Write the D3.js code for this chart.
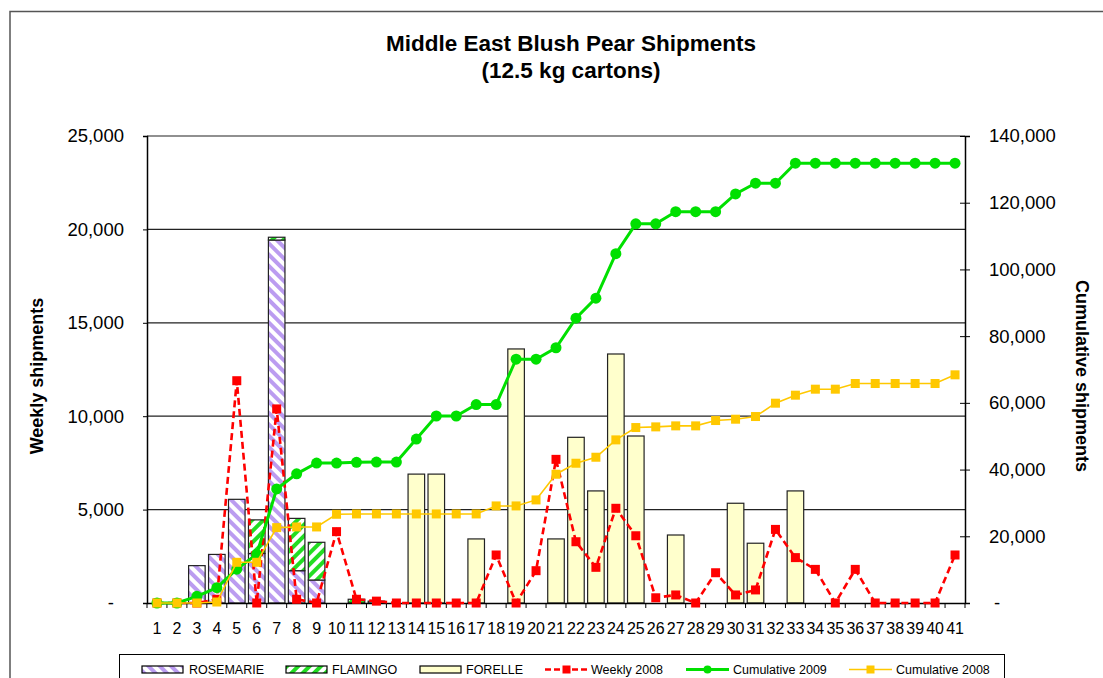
<!DOCTYPE html>
<html>
<head>
<meta charset="utf-8">
<script src="https://cdn.jsdelivr.net/npm/d3@7"></script>
<style>
  html, body { margin: 0; padding: 0; background: #fff; }
  svg { display: block; font-family: "Liberation Sans", Arial, sans-serif; }
</style>
</head>
<body>
<svg id="chart" width="1103" height="678"></svg>
<script>
// ---------- data ----------
const weeks = [1,2,3,4,5,6,7,8,9,10,11,12,13,14,15,16,17,18,19,20,21,22,23,24,25,26,27,28,29,30,31,32,33,34,35,36,37,38,39,40,41];
const rosemarie = [0,0,2000,2600,5550,2650,19430,1730,1230,0,0,100,0,0,0,0,0,0,0,0,0,0,0,0,0,0,0,0,0,0,0,0,0,0,0,0,0,0,0,0,0];
const flamingo  = [0,0,0,0,0,1800,150,2800,2020,0,200,0,0,0,0,0,0,0,0,0,0,0,0,0,0,0,0,0,0,0,0,0,0,0,0,0,0,0,0,0,0];
const forelle   = [0,0,0,0,0,0,0,0,0,0,0,0,0,6900,6900,0,3430,0,13600,0,3430,8870,6000,13330,8940,0,3640,0,0,5340,3200,0,6000,0,0,0,0,0,0,0,0];
const weekly2008 = [0,0,0,200,11900,0,10390,200,0,3820,200,100,0,0,0,0,0,2570,0,1730,7690,3280,1910,5070,3600,280,430,0,1620,430,700,3940,2430,1800,0,1800,0,0,0,0,2570];
const cumulative2009 = [0,0,2000,4600,10150,14600,34180,38710,41960,41960,42160,42260,42260,49160,56060,56060,59490,59490,73090,73090,76520,85390,91390,104720,113660,113660,117300,117300,117300,122640,125840,125840,131840,131840,131840,131840,131840,131840,131840,131840,131840];
const cumulative2008 = [0,0,0,300,12200,12200,22600,22800,22800,26600,26700,26700,26700,26700,26700,26700,26700,29100,29100,30900,38600,41900,43700,48900,52600,52800,53100,53100,54700,55100,55900,59900,62300,64100,64100,65800,65800,65800,65800,65800,68400];
const leftTicks  = [0,5000,10000,15000,20000,25000];
const rightTicks = [0,20000,40000,60000,80000,100000,120000,140000];
const titleLines = ["Middle East Blush Pear Shipments", "(12.5 kg cartons)"];
const legendNames = ["ROSEMARIE","FLAMINGO","FORELLE","Weekly 2008","Cumulative 2009","Cumulative 2008"];

// ---------- layout ----------
const svg = d3.select("#chart");
const L = 147, R = 965, T = 136, B = 603;
const fmt = v => v === 0 ? "-" : d3.format(",")(v);

const x = d3.scaleBand().domain(weeks).range([L, R]).padding(0);
const yL = d3.scaleLinear().domain([0, 25000]).range([B, T]);
const yR = d3.scaleLinear().domain([0, 140000]).range([B, T]);
const cx = w => x(w) + x.bandwidth() / 2;
const barW = x.bandwidth() * 0.83;

// frame
svg.append("rect").attr("x", 10).attr("y", 11.5).attr("width", 1200).attr("height", 900)
  .attr("fill", "none").attr("stroke", "#555").attr("stroke-width", 1.5);

// patterns
const defs = svg.append("defs");
function hatch(id, color, angle) {
  const p = defs.append("pattern").attr("id", id).attr("patternUnits", "userSpaceOnUse")
    .attr("width", 8).attr("height", 8).attr("patternTransform", `rotate(${angle})`);
  p.append("rect").attr("width", 8).attr("height", 8).attr("fill", "#fff");
  p.append("rect").attr("width", 4).attr("height", 8).attr("fill", color);
}
hatch("hRose", "#bb9cf0", -45);
hatch("hFlam", "#22dd22", 45);

// title
svg.selectAll("text.title").data(titleLines).join("text")
  .attr("class", "title")
  .attr("x", 571).attr("y", (d, i) => 51 + i * 27)
  .attr("text-anchor", "middle").attr("font-weight", "bold").attr("font-size", 22.5)
  .text(d => d);

// gridlines
svg.append("g").selectAll("line").data(leftTicks.filter(d => d > 0)).join("line")
  .attr("x1", L).attr("x2", R).attr("y1", d => yL(d)).attr("y2", d => yL(d))
  .attr("stroke", "#222").attr("stroke-width", 1.2);

// bars
const series = [
  { key: "ROSEMARIE", vals: rosemarie, base: weeks.map(() => 0), fill: "url(#hRose)" },
  { key: "FLAMINGO", vals: flamingo, base: rosemarie, fill: "url(#hFlam)" },
  { key: "FORELLE", vals: forelle, base: weeks.map(() => 0), fill: "#ffffcc" }
];
series.forEach(s => {
  const data = weeks.map((w, i) => ({ w, v: s.vals[i], b: s.base[i] })).filter(d => d.v > 0);
  svg.append("g").selectAll("rect").data(data).join("rect")
    .attr("x", d => cx(d.w) - barW / 2)
    .attr("width", barW)
    .attr("y", d => yL(d.b + d.v))
    .attr("height", d => yL(d.b) - yL(d.b + d.v))
    .attr("fill", s.fill).attr("stroke", "#222").attr("stroke-width", 1.2);
});

// axes
const gL = svg.append("g").attr("transform", `translate(${L},0)`)
  .call(d3.axisLeft(yL).tickValues(leftTicks).tickFormat(fmt).tickSize(4).tickPadding(19));
gL.selectAll("text").attr("font-size", 18.5).attr("fill", "#000")
  .attr("font-family", '"Liberation Sans", Arial, sans-serif')
  .attr("dx", d => d === 0 ? -10 : 0);
gL.select(".domain").attr("stroke", "#000").attr("stroke-width", 1.5);
gL.selectAll(".tick line").attr("stroke", "#000");

const gR = svg.append("g").attr("transform", `translate(${R},0)`)
  .call(d3.axisRight(yR).tickValues(rightTicks).tickFormat(fmt).tickSize(5).tickPadding(19));
gR.selectAll("text").attr("font-size", 18.5).attr("fill", "#000")
  .attr("font-family", '"Liberation Sans", Arial, sans-serif')
  .attr("dx", d => d === 0 ? 5 : 0);
gR.select(".domain").attr("stroke", "#000").attr("stroke-width", 1.5);
gR.selectAll(".tick line").attr("stroke", "#000").attr("x1", -5);

const gX = svg.append("g").attr("transform", `translate(0,${B})`)
  .call(d3.axisBottom(x).tickSize(0).tickPadding(20));
gX.select(".domain").attr("stroke", "#000").attr("stroke-width", 1.5);
gX.selectAll("text").attr("font-size", 16).attr("fill", "#000")
  .attr("font-family", '"Liberation Sans", Arial, sans-serif');
gX.selectAll("line.btick").data(weeks.concat([null])).join("line")
  .attr("class", "btick")
  .attr("x1", (d, i) => i < weeks.length ? x(d) : R)
  .attr("x2", (d, i) => i < weeks.length ? x(d) : R)
  .attr("y1", 0).attr("y2", 5).attr("stroke", "#000");

// axis titles
svg.append("text").attr("transform", "translate(43,376) rotate(-90)")
  .attr("text-anchor", "middle").attr("font-weight", "bold").attr("font-size", 18)
  .text("Weekly shipments");
svg.append("text").attr("transform", "translate(1076,376) rotate(90)")
  .attr("text-anchor", "middle").attr("font-weight", "bold").attr("font-size", 18)
  .text("Cumulative shipments");

// lines
const lineL = d3.line().x((d, i) => cx(weeks[i])).y(d => yL(d));
const lineR = d3.line().x((d, i) => cx(weeks[i])).y(d => yR(d));

// weekly 2008
svg.append("path").datum(weekly2008).attr("d", lineL)
  .attr("fill", "none").attr("stroke", "#ff0000").attr("stroke-width", 2.6).attr("stroke-dasharray", "7,4");
svg.append("g").selectAll("rect").data(weekly2008).join("rect")
  .attr("x", (d, i) => cx(weeks[i]) - 4.5).attr("y", d => yL(d) - 4.5)
  .attr("width", 9).attr("height", 9).attr("fill", "#ff0000");

// cumulative 2009
svg.append("path").datum(cumulative2009).attr("d", lineR)
  .attr("fill", "none").attr("stroke", "#00e000").attr("stroke-width", 3);
svg.append("g").selectAll("circle").data(cumulative2009).join("circle")
  .attr("cx", (d, i) => cx(weeks[i])).attr("cy", d => yR(d)).attr("r", 5.5).attr("fill", "#00e000");

// cumulative 2008
svg.append("path").datum(cumulative2008).attr("d", lineR)
  .attr("fill", "none").attr("stroke", "#ffc800").attr("stroke-width", 1.6);
svg.append("g").selectAll("rect").data(cumulative2008).join("rect")
  .attr("x", (d, i) => cx(weeks[i]) - 4.5).attr("y", d => yR(d) - 4.5)
  .attr("width", 9).attr("height", 9).attr("fill", "#ffc800");

// legend
const lg = svg.append("g");
lg.append("rect").attr("x", 119.5).attr("y", 654.5).attr("width", 885).attr("height", 60)
  .attr("fill", "#fff").attr("stroke", "#000").attr("stroke-width", 1);
const legX = [142, 286, 420, 545, 686, 849];
const ly = 669.5;
const swFill = ["url(#hRose)", "url(#hFlam)", "#ffffcc"];
[0,1,2].forEach(i => {
  lg.append("rect").attr("x", legX[i]).attr("y", ly - 3.5).attr("width", 41).attr("height", 7)
    .attr("fill", swFill[i]).attr("stroke", "#000").attr("stroke-width", 1.2);
});
// weekly 2008 sample
lg.append("line").attr("x1", legX[3]).attr("x2", legX[3] + 43).attr("y1", ly).attr("y2", ly)
  .attr("stroke", "#ff0000").attr("stroke-width", 2.6).attr("stroke-dasharray", "6,3");
lg.append("rect").attr("x", legX[3] + 21.5 - 4).attr("y", ly - 4).attr("width", 8).attr("height", 8).attr("fill", "#ff0000");
// cum 2009 sample
lg.append("line").attr("x1", legX[4]).attr("x2", legX[4] + 43).attr("y1", ly).attr("y2", ly)
  .attr("stroke", "#00e000").attr("stroke-width", 3);
lg.append("circle").attr("cx", legX[4] + 21.5).attr("cy", ly).attr("r", 4).attr("fill", "#00e000");
// cum 2008 sample
lg.append("line").attr("x1", legX[5]).attr("x2", legX[5] + 43).attr("y1", ly).attr("y2", ly)
  .attr("stroke", "#ffc800").attr("stroke-width", 1.6);
lg.append("rect").attr("x", legX[5] + 21.5 - 4).attr("y", ly - 4).attr("width", 8).attr("height", 8).attr("fill", "#ffc800");

const textX = [189, 332, 466, 591, 733, 896];
lg.selectAll("text").data(legendNames).join("text")
  .attr("x", (d, i) => textX[i]).attr("y", ly + 4.5)
  .attr("font-size", 12.5).attr("fill", "#000").text(d => d);
</script>
</body>
</html>
